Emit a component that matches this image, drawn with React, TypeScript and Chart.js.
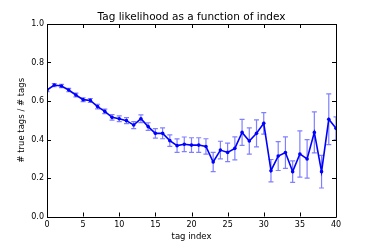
import React, { useEffect, useRef } from "react";
import { Chart, registerables } from "chart.js";

Chart.register(...registerables);

const indices = [0,1,2,3,4,5,6,7,8,9,10,11,12,13,14,15,16,17,18,19,20,21,22,23,24,25,26,27,28,29,30,31,32,33,34,35,36,37,38,39,40];
const values = [0.657,0.683,0.678,0.657,0.631,0.607,0.603,0.571,0.546,0.515,0.508,0.498,0.475,0.508,0.467,0.432,0.432,0.394,0.368,0.375,0.371,0.371,0.364,0.283,0.345,0.333,0.354,0.437,0.392,0.432,0.484,0.238,0.314,0.332,0.233,0.325,0.299,0.437,0.233,0.505,0.458];
const errors = [0.008,0.008,0.008,0.009,0.01,0.01,0.01,0.012,0.012,0.014,0.015,0.016,0.018,0.02,0.02,0.025,0.028,0.03,0.035,0.038,0.038,0.038,0.04,0.05,0.046,0.048,0.06,0.068,0.068,0.07,0.056,0.058,0.075,0.082,0.056,0.12,0.1,0.106,0.085,0.132,0.06];
const xTicks = [0,5,10,15,20,25,30,35,40];
const yTicks = [0,0.2,0.4,0.6,0.8,1.0];
const titleText = "Tag likelihood as a function of index";

const FONT = "'DejaVu Sans', sans-serif";

const framePlugin = {
  id: "frameAndErrors",
  beforeDatasetsDraw(chart: any) {
    const ctx = chart.ctx;
    const xs = chart.scales.x;
    const ys = chart.scales.y;
    const area = chart.chartArea;
    ctx.save();
    ctx.beginPath();
    ctx.rect(area.left, area.top, area.right - area.left, area.bottom - area.top);
    ctx.clip();
    ctx.strokeStyle = "rgba(0,0,255,0.5)";
    ctx.lineWidth = 1.2;
    indices.forEach((x, i) => {
      const px = xs.getPixelForValue(x);
      const t = ys.getPixelForValue(values[i] + errors[i]);
      const b = ys.getPixelForValue(values[i] - errors[i]);
      ctx.beginPath();
      ctx.moveTo(px, t);
      ctx.lineTo(px, b);
      ctx.moveTo(px - 2.5, t);
      ctx.lineTo(px + 2.5, t);
      ctx.moveTo(px - 2.5, b);
      ctx.lineTo(px + 2.5, b);
      ctx.stroke();
    });
    ctx.restore();
  },
  afterDraw(chart: any) {
    const ctx = chart.ctx;
    const xs = chart.scales.x;
    const ys = chart.scales.y;
    const a = chart.chartArea;
    ctx.save();
    ctx.strokeStyle = "#000";
    ctx.lineWidth = 1;
    ctx.beginPath();
    ctx.rect(Math.round(a.left) + 0.5, Math.round(a.top) + 0.5, Math.round(a.right - a.left), Math.round(a.bottom - a.top));
    ctx.stroke();
    ctx.beginPath();
    xTicks.forEach((v) => {
      const px = Math.round(xs.getPixelForValue(v)) + 0.5;
      ctx.moveTo(px, a.bottom);
      ctx.lineTo(px, a.bottom - 4);
      ctx.moveTo(px, a.top);
      ctx.lineTo(px, a.top + 4);
    });
    yTicks.forEach((v) => {
      const py = Math.round(ys.getPixelForValue(v)) + 0.5;
      ctx.moveTo(a.left, py);
      ctx.lineTo(a.left + 4, py);
      ctx.moveTo(a.right, py);
      ctx.lineTo(a.right - 4, py);
    });
    ctx.stroke();
    ctx.fillStyle = "#000";
    ctx.font = "10.5px " + FONT;
    ctx.textAlign = "center";
    ctx.textBaseline = "middle";
    ctx.fillText(titleText, (a.left + a.right) / 2, 17);
    ctx.restore();
  },
};

export default function App() {
  const ref = useRef<HTMLCanvasElement | null>(null);
  useEffect(() => {
    if (!ref.current) return;
    const chart = new Chart(ref.current, {
      type: "line",
      data: {
        datasets: [
          {
            data: indices.map((x, i) => ({ x, y: values[i] })),
            borderColor: "#0000ff",
            backgroundColor: "#0000ff",
            borderWidth: 1.6,
            pointRadius: 1.8,
            pointBorderWidth: 0,
            tension: 0,
          },
        ],
      },
      options: {
        responsive: false,
        animation: false,
        layout: { padding: { left: 0, right: 38, top: 24, bottom: 0 } },
        plugins: {
          legend: { display: false },
          tooltip: { enabled: false },
          title: { display: false },
        },
        scales: {
          x: {
            type: "linear",
            min: 0,
            max: 40,
            afterBuildTicks: (s: any) => {
              s.ticks = xTicks.map((v) => ({ value: v }));
            },
            afterFit: (s: any) => {
              s.height = 32.5;
            },
            grid: { display: false, drawTicks: false },
            border: { display: false },
            ticks: {
              color: "#000",
              padding: 4,
              maxRotation: 0,
              font: { family: FONT, size: 8 },
              callback: (v: any) => String(v),
            },
            title: {
              display: true,
              text: "tag index",
              color: "#000",
              font: { family: FONT, size: 8.5 },
              padding: { top: 0, bottom: 7 },
            },
          },
          y: {
            type: "linear",
            min: 0,
            max: 1,
            afterBuildTicks: (s: any) => {
              s.ticks = yTicks.map((v) => ({ value: v }));
            },
            afterFit: (s: any) => {
              s.width = 47;
            },
            grid: { display: false, drawTicks: false },
            border: { display: false },
            ticks: {
              color: "#000",
              padding: 3,
              font: { family: FONT, size: 8 },
              callback: (v: any) => Number(v).toFixed(1),
            },
            title: {
              display: true,
              text: "# true tags / # tags",
              color: "#000",
              font: { family: FONT, size: 8.5 },
              padding: { top: 17, bottom: 0 },
            },
          },
        },
      },
      plugins: [framePlugin],
    });
    return () => chart.destroy();
  }, []);
  return (
    <div style={{ position: "absolute", left: 0, top: 0, width: 374, height: 249, background: "#fff" }}>
      <canvas ref={ref} width={374} height={249} style={{ display: "block" }} />
    </div>
  );
}
